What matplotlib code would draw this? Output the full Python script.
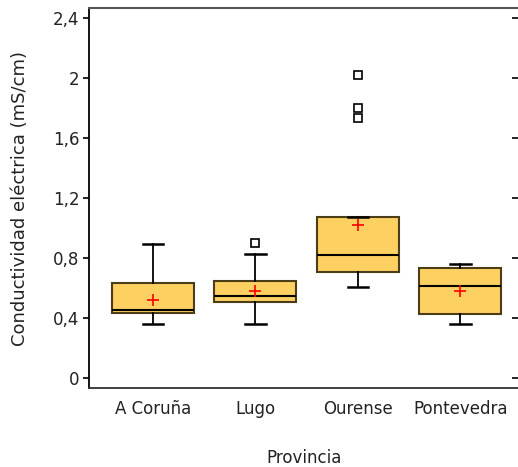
import matplotlib
matplotlib.use("Agg")
import matplotlib.pyplot as plt

provincias = ["A Coruña", "Lugo", "Ourense", "Pontevedra"]
q1 = [0.430, 0.506, 0.704, 0.426]
median = [0.452, 0.548, 0.820, 0.611]
q3 = [0.635, 0.648, 1.076, 0.731]
whislo = [0.359, 0.359, 0.604, 0.359]
whishi = [0.895, 0.826, 1.076, 0.760]
means = [0.519, 0.579, 1.020, 0.579]
outliers = [[], [0.902], [2.02, 1.804, 1.735], []]
yticks = [0, 0.4, 0.8, 1.2, 1.6, 2.0, 2.4]
ytick_labels = ["0", "0,4", "0,8", "1,2", "1,6", "2", "2,4"]

plt.rcParams['font.family'] = ['DejaVu Sans']
fig = plt.figure(figsize=(5.18, 4.67), dpi=100)
ax = fig.add_axes([89.3 / 518, 79 / 467, 1 - 89.3 / 518, 380 / 467])

stats = []
for i in range(len(provincias)):
    stats.append(dict(q1=q1[i], med=median[i], q3=q3[i], whislo=whislo[i],
                      whishi=whishi[i], mean=means[i], fliers=outliers[i],
                      label=provincias[i]))

positions = list(range(1, len(provincias) + 1))
ax.bxp(stats, positions=positions, widths=0.8, patch_artist=True,
       showmeans=True, capwidths=0.2,
       boxprops=dict(facecolor="#fdd062", edgecolor="#4a3d18", linewidth=1.5),
       medianprops=dict(color="black", linewidth=1.5),
       whiskerprops=dict(color="black", linewidth=1.3),
       capprops=dict(color="black", linewidth=1.8),
       meanprops=dict(marker="+", markeredgecolor="red", markersize=9,
                      markeredgewidth=1.2),
       flierprops=dict(marker="s", markerfacecolor="none",
                       markeredgecolor="black", markersize=6,
                       markeredgewidth=1.2))

ax.set_xlim(0.381, 4.563)
ax.set_ylim(-0.068, 2.47)
ax.set_yticks(yticks)
ax.set_yticklabels(ytick_labels, fontsize=12, color="#222222")
ax.set_xticks(positions)
ax.set_xticklabels(provincias, fontsize=12, color="#222222")
ax.tick_params(axis="x", length=0, pad=9)
ax.tick_params(axis="y", direction="out", length=4, width=1.2, right=True,
               pad=3, color="black")
ax.tick_params(axis="y", which="major", labelright=False)
for t in ax.yaxis.get_ticklines()[1::2]:
    t.set_marker(0)  # right ticks pointing inward
ax.spines["right"].set_visible(False)
ax.spines["top"].set_color("#555555")
ax.spines["top"].set_linewidth(1.5)
ax.spines["left"].set_linewidth(1.3)
ax.spines["bottom"].set_linewidth(1.3)
ax.spines["bottom"].set_color("#333333")

ax.set_ylabel("Conductividad eléctrica (mS/cm)", fontsize=13, labelpad=17,
              color="#222222")
ax.set_xlabel("Provincia", fontsize=12, labelpad=22, color="#222222")

fig.savefig("out.png", dpi=100)
